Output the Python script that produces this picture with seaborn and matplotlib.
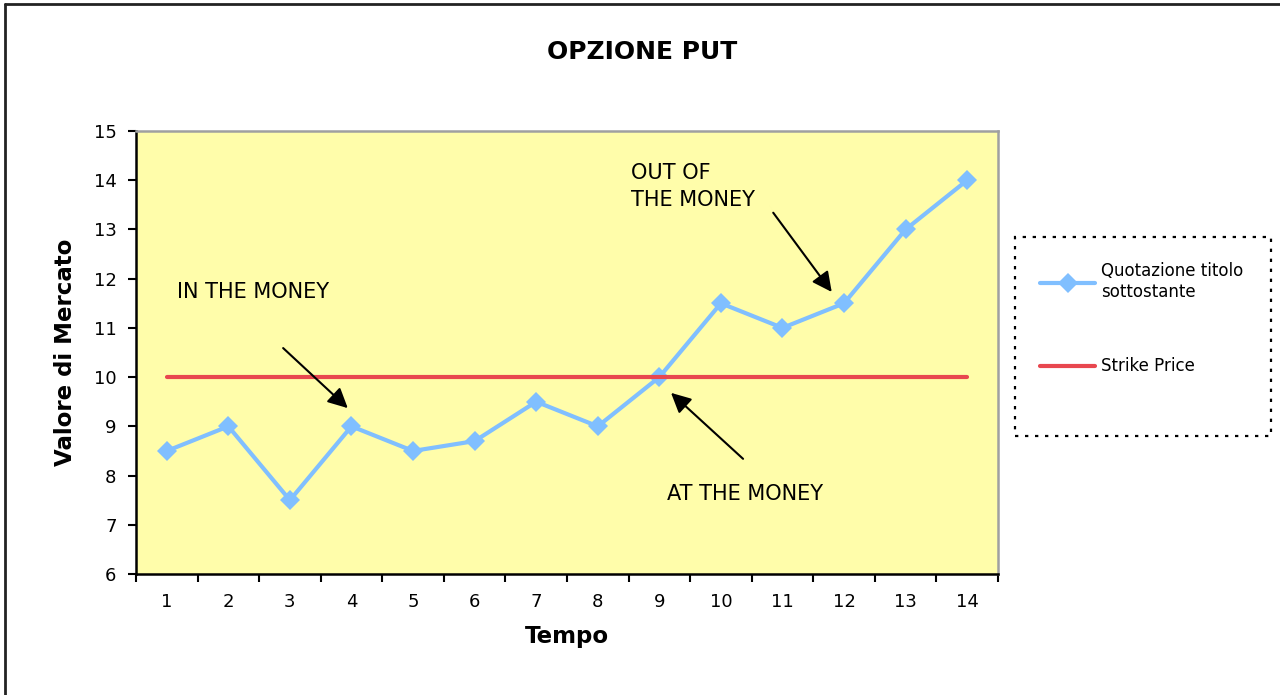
import matplotlib
matplotlib.use('Agg')
import matplotlib.pyplot as plt
import seaborn as sns
from matplotlib.lines import Line2D
from matplotlib.patches import Rectangle

# Chart data
tempo = [1, 2, 3, 4, 5, 6, 7, 8, 9, 10, 11, 12, 13, 14]
quotazione = [8.5, 9, 7.5, 9, 8.5, 8.7, 9.5, 9, 10, 11.5, 11, 11.5, 13, 14]
strike = [10] * len(tempo)
y_ticks = [6, 7, 8, 9, 10, 11, 12, 13, 14, 15]

sns.set_style('white')
plt.rcParams['font.family'] = ['DejaVu Sans']
plt.rcParams['text.color'] = 'black'
plt.rcParams['axes.labelcolor'] = 'black'
plt.rcParams['xtick.color'] = 'black'
plt.rcParams['ytick.color'] = 'black'

fig = plt.figure(figsize=(12.8, 6.95), dpi=100)
ax = fig.add_axes([0.10625, 0.1741, 0.6734, 0.6374])
ax.set_facecolor('#FFFDAA')

sns.lineplot(x=tempo, y=quotazione, ax=ax, color='#80BFFF', linewidth=3,
             marker='D', markersize=10, markeredgewidth=0,
             label='Quotazione titolo\nsottostante')
sns.lineplot(x=tempo, y=strike, ax=ax, color='#E8474F', linewidth=3,
             label='Strike Price')

ax.set_xlim(0.5, 14.5)
ax.set_ylim(6, 15)
ax.set_yticks(y_ticks)
ax.set_xticks(tempo)
ax.set_xticks([t - 0.5 for t in tempo] + [tempo[-1] + 0.5], minor=True)
ax.tick_params(axis='x', which='major', length=0, labelsize=13, pad=14)
ax.tick_params(axis='x', which='minor', length=6, width=1.5, direction='out',
               bottom=True, color='black')
ax.tick_params(axis='y', which='major', length=6, width=1.5, direction='out',
               left=True, labelsize=13, color='black', pad=8)

for side in ['left', 'bottom']:
    ax.spines[side].set_color('black')
    ax.spines[side].set_linewidth(1.8)
for side in ['top', 'right']:
    ax.spines[side].set_color('#A0A0A0')
    ax.spines[side].set_linewidth(1.8)

ax.set_xlabel('Tempo', fontsize=16.5, fontweight='bold', labelpad=10)
ax.set_ylabel('Valore di Mercato', fontsize=16.5, fontweight='bold', labelpad=12)
fig.text(0.502, 0.925, 'OPZIONE PUT', fontsize=18, fontweight='bold',
         ha='center', va='center')

# Annotations
arrow = dict(arrowstyle='-|>', color='black', lw=1.5, mutation_scale=30,
             shrinkA=0, shrinkB=0)
ax.text(1.16, 11.73, 'IN THE MONEY', fontsize=15, va='center', ha='left')
ax.annotate('', xy=(3.94, 9.37), xytext=(2.89, 10.59), arrowprops=arrow)
ax.text(8.54, 13.87, 'OUT OF\nTHE MONEY', fontsize=15, va='center',
        ha='left', linespacing=1.45)
ax.annotate('', xy=(11.80, 11.73), xytext=(10.85, 13.34), arrowprops=arrow)
ax.text(9.12, 7.63, 'AT THE MONEY', fontsize=15, va='center', ha='left')
ax.annotate('', xy=(9.19, 9.68), xytext=(10.36, 8.34), arrowprops=arrow)

# Legend (frameless) inside a dotted box
leg = ax.legend(loc='upper left', bbox_to_anchor=(1040 / 1280, 1 - 262 / 695),
                bbox_transform=fig.transFigure, fontsize=12, frameon=False,
                handlelength=3.3, numpoints=1, labelspacing=3.4,
                borderpad=0, handletextpad=0.35, borderaxespad=0)
box = Rectangle((1015 / 1280, 1 - 436 / 695), 256 / 1280, 199 / 695,
                transform=fig.transFigure, facecolor='white',
                edgecolor='black', linewidth=1.6, linestyle=(0, (1.5, 3)),
                zorder=0)
fig.add_artist(box)

# Outer chart frame
fig.add_artist(Line2D([0.004, 0.004], [0, 0.994], transform=fig.transFigure,
                      color='#222222', linewidth=2))
fig.add_artist(Line2D([0.004, 1], [0.994, 0.994], transform=fig.transFigure,
                      color='#222222', linewidth=2))

fig.savefig('out.png', dpi=100, facecolor='white')
